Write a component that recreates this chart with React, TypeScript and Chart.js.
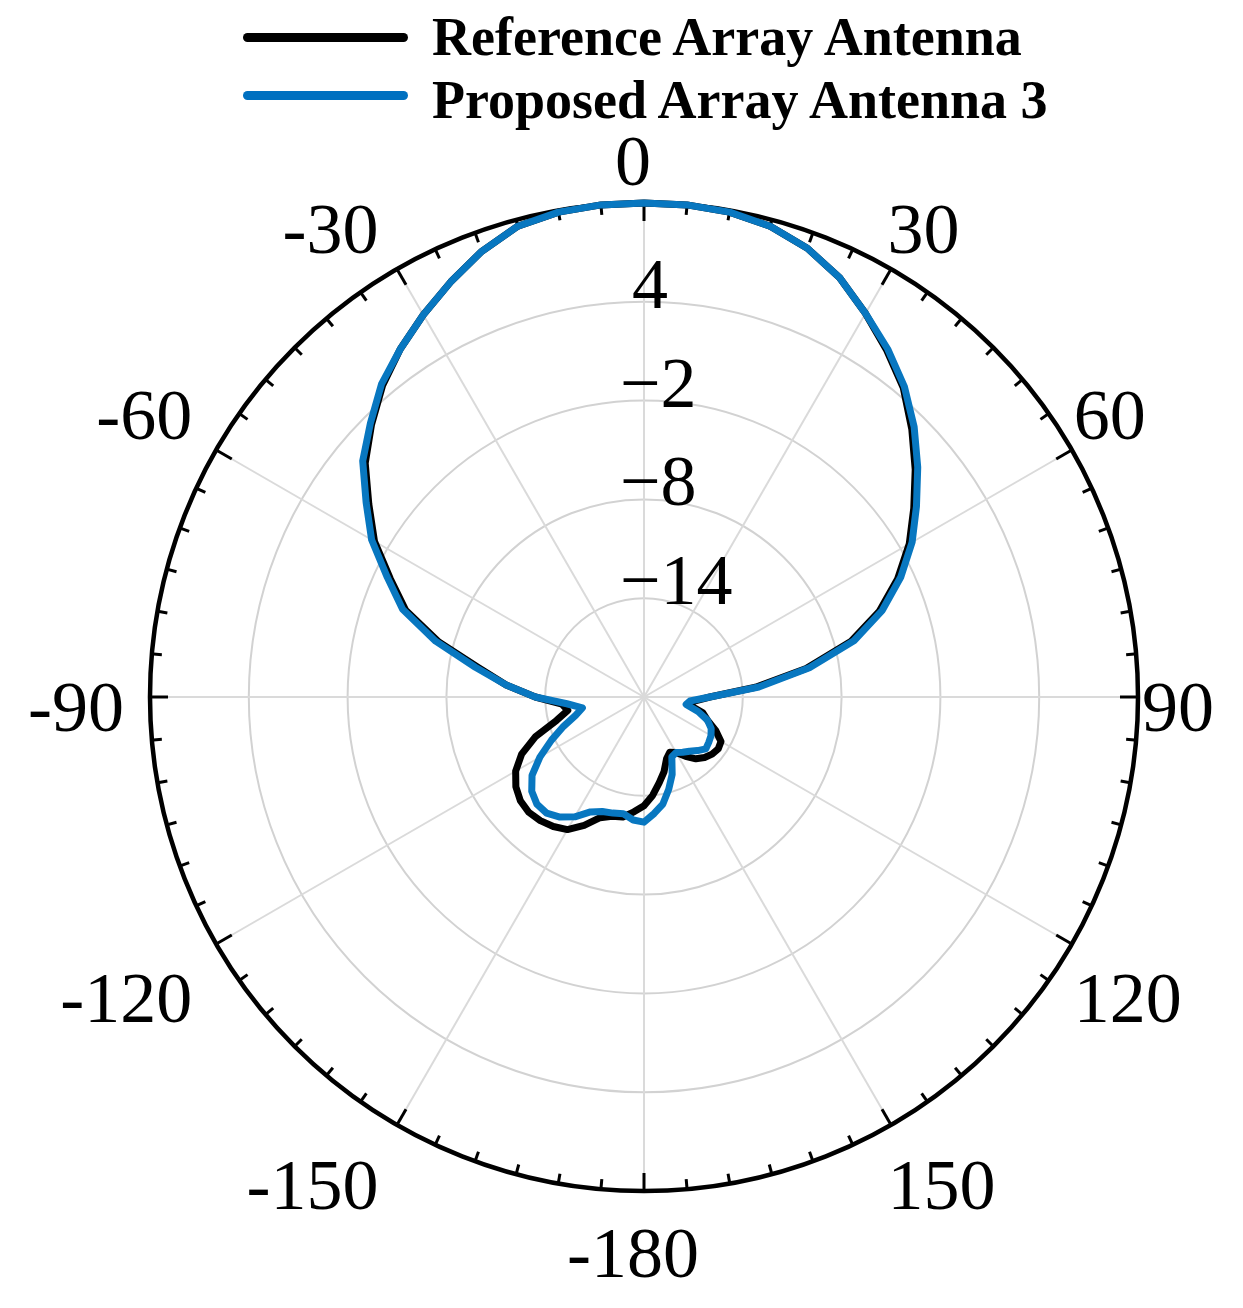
import React, { useEffect, useRef } from 'react';
import { Chart, registerables } from 'chart.js';

Chart.register(...registerables);

// Angle categories (degrees, clockwise from top)
const ANGLES: number[] = [
  0, 5, 10, 15, 20, 25, 30, 35, 40, 45, 50, 55, 60, 65, 70, 75, 80, 85,
  90, 95, 100, 105, 110, 115, 120, 125, 130, 135, 140, 145, 150, 155, 160, 165, 170, 175,
  -180, -175, -170, -165, -160, -155, -150, -145, -140, -135, -130, -125, -120, -115, -110, -105, -100, -95,
  -90, -85, -80, -75, -70, -65, -60, -55, -50, -45, -40, -35, -30, -25, -20, -15, -10, -5,
];

// Gain (dB) per angle
const REFERENCE_DB: number[] = [
  10.0, 10.0, 9.9, 9.6, 9.0, 8.1, 6.9, 5.7, 4.5, 3.0, 1.5, 0.0, -1.4, -3.0, -4.8, -7.0, -10.0, -13.2,
  -16.0, -17.0, -17.2, -16.3, -15.9, -15.2, -14.6, -14.5, -14.6, -14.8, -15.1, -15.6, -16.1, -16.3, -16.0, -15.3, -14.7, -14.0,
  -13.4, -13.0, -12.6, -12.5, -12.2, -11.4, -10.7, -10.4, -10.2, -10.1, -10.2, -10.5, -11.0, -11.8, -13.0, -14.5, -15.3, -15.0,
  -13.4, -11.6, -9.8, -7.1, -4.6, -3.0, -1.1, 0.4, 2.1, 3.4, 4.7, 5.8, 6.8, 7.8, 8.8, 9.6, 9.9, 10.0,
];

const PROPOSED_DB: number[] = [
  10.0, 10.0, 9.9, 9.6, 9.0, 8.1, 6.9, 5.8, 4.6, 3.2, 1.7, 0.2, -1.2, -2.8, -4.6, -6.8, -9.8, -13.0,
  -16.0, -17.2, -17.4, -16.6, -15.9, -15.5, -15.3, -15.2, -15.1, -15.4, -15.7, -15.9, -16.1, -16.0, -15.0, -14.2, -13.4, -12.9,
  -12.4, -12.5, -12.8, -12.7, -12.6, -12.3, -11.6, -11.1, -10.8, -10.8, -11.1, -11.7, -12.7, -13.8, -14.8, -15.7, -16.2, -15.3,
  -13.4, -11.6, -9.6, -6.9, -4.4, -2.8, -0.9, 0.6, 2.3, 3.5, 4.8, 5.8, 6.8, 7.8, 8.8, 9.6, 9.9, 10.0,
];

const SERIES_NAMES: string[] = ['Reference Array Antenna', 'Proposed Array Antenna 3'];
const SERIES_COLORS: string[] = ['#000000', '#0877C0'];

// Radial axis
const R_MIN = -20;
const R_MAX = 10;
const R_STEP = 6;
const R_LABELLED: number[] = [-14, -8, -2, 4];

const SERIF = '"Liberation Serif", "Times New Roman", Times, serif';

const polarDecor = {
  id: 'polarDecor',
  beforeDatasetsDraw(chart: any) {
    const s = chart.scales.r;
    const ctx = chart.ctx as CanvasRenderingContext2D;
    const R = s.drawingArea;
    ctx.save();

    // ticks on outer ring
    ctx.strokeStyle = '#000';
    ctx.lineWidth = 3;
    for (let i = 0; i < ANGLES.length; i++) {
      const major = ANGLES[i] % 30 === 0;
      const len = major ? 18 : 10;
      const p1 = s.getPointPosition(i, R + 1);
      const p2 = s.getPointPosition(i, R - len);
      ctx.beginPath();
      ctx.moveTo(p1.x, p1.y);
      ctx.lineTo(p2.x, p2.y);
      ctx.stroke();
    }

    // radial tick labels
    ctx.fillStyle = '#000';
    ctx.font = `72px ${SERIF}`;
    ctx.textAlign = 'left';
    ctx.textBaseline = 'alphabetic';
    s.ticks.forEach((t: any) => {
      if (!R_LABELLED.includes(t.value)) return;
      const d = s.getDistanceFromCenterForValue(t.value);
      const txt = t.value < 0 ? '\u2212' + Math.abs(t.value) : String(t.value);
      ctx.fillText(txt, s.xCenter + (t.value < 0 ? -24 : -12), s.yCenter - d + 6);
    });

    // angle labels
    const h = 74;
    ctx.textBaseline = 'middle';
    for (let i = 0; i < ANGLES.length; i++) {
      const a = ANGLES[i];
      if (a % 30 !== 0) continue;
      const deg = ((a % 360) + 360) % 360;
      const p = s.getPointPosition(i, R + 15);
      const align: CanvasTextAlign = deg === 0 || deg === 180 ? 'center' : deg < 180 ? 'left' : 'right';
      let y = p.y;
      if (deg === 90 || deg === 270) {
        // centred
      } else if (deg > 270 || deg < 90) {
        y -= h / 2;
      } else {
        y += h / 2;
      }
      ctx.textAlign = align;
      ctx.fillText(String(a), p.x - 11, y + 15);
    }
    ctx.restore();
  },
};

export default function App() {
  const canvasRef = useRef<HTMLCanvasElement | null>(null);

  useEffect(() => {
    if (!canvasRef.current) return;
    const chart = new Chart(canvasRef.current, {
      type: 'radar',
      data: {
        labels: ANGLES.map((a) => String(a)),
        datasets: [
          {
            label: SERIES_NAMES[0],
            data: REFERENCE_DB,
            borderColor: SERIES_COLORS[0],
            backgroundColor: 'rgba(0,0,0,0)',
            borderWidth: 7,
            pointRadius: 0,
            fill: false,
            order: 1,
          },
          {
            label: SERIES_NAMES[1],
            data: PROPOSED_DB,
            borderColor: SERIES_COLORS[1],
            backgroundColor: 'rgba(0,0,0,0)',
            borderWidth: 7,
            pointRadius: 0,
            fill: false,
            order: 0,
          },
        ],
      },
      options: {
        responsive: false,
        animation: false,
        devicePixelRatio: 1,
        events: [],
        layout: { padding: { left: 150, right: 105, top: 203, bottom: 117 } },
        elements: { line: { tension: 0, borderJoinStyle: 'round' } },
        plugins: { legend: { display: false }, tooltip: { enabled: false }, title: { display: false } },
        scales: {
          r: {
            min: R_MIN,
            max: R_MAX,
            startAngle: 0,
            beginAtZero: false,
            ticks: { stepSize: R_STEP, display: false },
            pointLabels: { display: false },
            grid: {
              circular: true,
              color: (c: any) =>
                c.tick && c.tick.value === R_MAX ? '#000000' : c.tick && c.tick.value === R_MIN ? 'rgba(0,0,0,0)' : '#d2d2d2',
              lineWidth: (c: any) => (c.tick && c.tick.value === R_MAX ? 4.5 : 2),
            },
            angleLines: {
              display: true,
              color: (c: any) => (ANGLES[c.index] % 30 === 0 ? '#dadada' : 'rgba(0,0,0,0)'),
              lineWidth: (c: any) => (ANGLES[c.index] % 30 === 0 ? 2 : 0),
            },
          },
        },
      } as any,
      plugins: [polarDecor],
    });
    return () => chart.destroy();
  }, []);

  return (
    <div
      style={{
        position: 'absolute',
        left: 0,
        top: 0,
        width: 1243,
        height: 1308,
        background: '#fff',
        overflow: 'hidden',
      }}
    >
      <canvas ref={canvasRef} width={1243} height={1308} style={{ position: 'absolute', left: 0, top: 0 }} />
      {SERIES_NAMES.map((name, i) => (
        <React.Fragment key={name}>
          <div
            style={{
              position: 'absolute',
              left: 243,
              top: 33 + i * 58,
              width: 165,
              height: 9,
              borderRadius: 4.5,
              background: i === 1 ? '#0070C0' : SERIES_COLORS[i],
            }}
          />
          <div
            style={{
              position: 'absolute',
              left: 432,
              top: 10 + i * 63,
              font: `bold 54px ${SERIF}`,
              lineHeight: '54px',
              whiteSpace: 'nowrap',
              color: '#000',
            }}
          >
            {name}
          </div>
        </React.Fragment>
      ))}
    </div>
  );
}
